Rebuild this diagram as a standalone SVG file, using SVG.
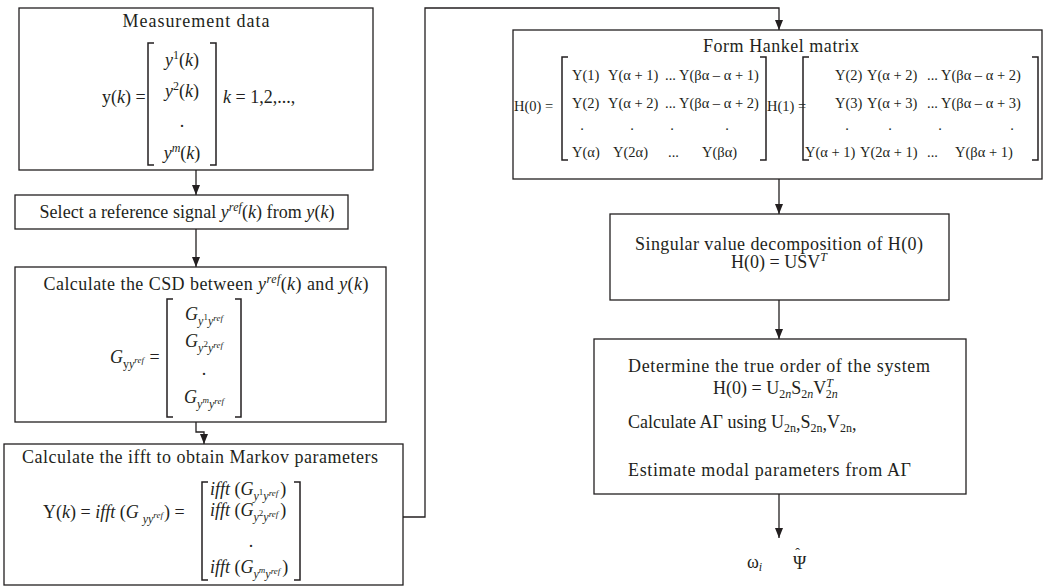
<svg xmlns="http://www.w3.org/2000/svg" width="1044" height="588" viewBox="0 0 1044 588">
<style>
.box{fill:#fff;stroke:#231f20;stroke-width:1.3}
.br{fill:none;stroke:#231f20;stroke-width:1.5}
.ln{fill:none;stroke:#231f20;stroke-width:1.3}
text{font-family:"Liberation Serif","Times New Roman",serif;font-size:18px;fill:#231f20}
.m{font-size:14.5px}
.i{font-style:italic}
</style>
<defs>
<marker id="ah" markerUnits="userSpaceOnUse" markerWidth="10" markerHeight="10" refX="10" refY="4" orient="auto">
<path d="M0,0 L10,4 L0,8 z" fill="#231f20"/>
</marker>
</defs>
<rect width="1044" height="588" fill="#fff"/>

<g id="connectors">
<path class="ln" d="M196,170 V195" marker-end="url(#ah)"/>
<path class="ln" d="M196,229 V267" marker-end="url(#ah)"/>
<path class="ln" d="M196,422 V432 H204 V444" marker-end="url(#ah)"/>
<path class="ln" d="M403,517 H425 V8 H779 V30" marker-end="url(#ah)"/>
<path class="ln" d="M779,179 V214" marker-end="url(#ah)"/>
<path class="ln" d="M779,300 V339" marker-end="url(#ah)"/>
<path class="ln" d="M779,494 V538" marker-end="url(#ah)"/>
</g>

<g id="measurement">
<rect class="box" x="19" y="8" width="354" height="162"/>
<text x="196" y="27" text-anchor="middle" textLength="147">Measurement data</text>
<text x="102" y="103">y(<tspan class="i">k</tspan>) =</text>
<path class="br" d="M154,43 H148 V165 H154 M210,43 H216 V165 H210"/>
<text x="182" y="66" text-anchor="middle"><tspan class="i">y</tspan><tspan font-size="12" dy="-7">1</tspan><tspan dy="7">(</tspan><tspan class="i">k</tspan>)</text>
<text x="182" y="97" text-anchor="middle"><tspan class="i">y</tspan><tspan font-size="12" dy="-7">2</tspan><tspan dy="7">(</tspan><tspan class="i">k</tspan>)</text>
<text x="182" y="127" text-anchor="middle">.</text>
<text x="182" y="159" text-anchor="middle"><tspan class="i">y</tspan><tspan class="i" font-size="12" dy="-7">m</tspan><tspan dy="7">(</tspan><tspan class="i">k</tspan>)</text>
<text x="223" y="103"><tspan class="i">k</tspan> = 1,2,...,</text>
</g>

<g id="select">
<rect class="box" x="15" y="195" width="333" height="34"/>
<text x="187" y="218" text-anchor="middle" textLength="295">Select a reference signal <tspan class="i">y</tspan><tspan class="i" font-size="12" dy="-7">ref</tspan><tspan dy="7">(</tspan><tspan class="i">k</tspan>) from <tspan class="i">y</tspan>(<tspan class="i">k</tspan>)</text>
</g>

<g id="csd">
<rect class="box" x="15" y="267" width="371" height="155"/>
<text x="206" y="290" text-anchor="middle" textLength="325">Calculate the CSD between <tspan class="i">y</tspan><tspan class="i" font-size="12" dy="-7">ref</tspan><tspan dy="7">(</tspan><tspan class="i">k</tspan>) and <tspan class="i">y</tspan>(<tspan class="i">k</tspan>)</text>
<text x="110" y="363"><tspan class="i">G</tspan><tspan font-size="12" dy="5">y</tspan><tspan class="i" font-size="12">y</tspan><tspan class="i" font-size="9" dy="-5">ref</tspan><tspan dx="1"> =</tspan></text>
<path class="br" d="M173,299 H167 V417 H173 M235,299 H241 V417 H235"/>
<text x="204" y="320" text-anchor="middle"><tspan class="i">G</tspan><tspan class="i" font-size="12" dy="5">y</tspan><tspan font-size="9" dy="-5">1</tspan><tspan class="i" font-size="12" dy="5">y</tspan><tspan class="i" font-size="9" dy="-4">ref</tspan></text>
<text x="204" y="347" text-anchor="middle"><tspan class="i">G</tspan><tspan class="i" font-size="12" dy="5">y</tspan><tspan font-size="9" dy="-5">2</tspan><tspan class="i" font-size="12" dy="5">y</tspan><tspan class="i" font-size="9" dy="-4">ref</tspan></text>
<text x="204" y="375" text-anchor="middle">.</text>
<text x="204" y="403" text-anchor="middle"><tspan class="i">G</tspan><tspan class="i" font-size="12" dy="5">y</tspan><tspan class="i" font-size="9" dy="-5">m</tspan><tspan class="i" font-size="12" dy="5">y</tspan><tspan class="i" font-size="9" dy="-4">ref</tspan></text>
</g>

<g id="ifft">
<rect class="box" x="4" y="444" width="399" height="141"/>
<text x="200" y="463" text-anchor="middle" textLength="356">Calculate the ifft to obtain Markov parameters</text>
<text x="43" y="518">Y(<tspan class="i">k</tspan>) = <tspan class="i">ifft</tspan> (<tspan class="i">G</tspan><tspan class="i" font-size="12" dx="4" dy="5">yy</tspan><tspan class="i" font-size="9" dy="-5">ref</tspan><tspan dx="1">) =</tspan></text>
<path class="br" d="M208,482 H202 V580 H208 M294,482 H300 V580 H294"/>
<text x="210" y="495"><tspan class="i">ifft</tspan> (<tspan class="i">G</tspan><tspan class="i" font-size="12" dy="5">y</tspan><tspan font-size="9" dy="-5">1</tspan><tspan class="i" font-size="12" dy="5">y</tspan><tspan class="i" font-size="9" dy="-4">ref</tspan><tspan dx="2" dy="-1">)</tspan></text>
<text x="210" y="516"><tspan class="i">ifft</tspan> (<tspan class="i">G</tspan><tspan class="i" font-size="12" dy="5">y</tspan><tspan font-size="9" dy="-5">2</tspan><tspan class="i" font-size="12" dy="5">y</tspan><tspan class="i" font-size="9" dy="-4">ref</tspan><tspan dx="2" dy="-1">)</tspan></text>
<text x="251" y="547" text-anchor="middle">.</text>
<text x="210" y="573"><tspan class="i">ifft</tspan> (<tspan class="i">G</tspan><tspan class="i" font-size="12" dy="5">y</tspan><tspan class="i" font-size="9" dy="-5">m</tspan><tspan class="i" font-size="12" dy="5">y</tspan><tspan class="i" font-size="9" dy="-4">ref</tspan><tspan dx="2" dy="-1">)</tspan></text>
</g>

<g id="hankel">
<rect class="box" x="513" y="30" width="529" height="149"/>
<text x="781" y="52" text-anchor="middle" textLength="156">Form Hankel matrix</text>
<text class="m" x="514" y="111">H(0) =</text>
<path class="br" d="M568,57 H562 V160 H568 M760,57 H766 V160 H760"/>
<text class="m" x="572" y="80">Y(1)</text>
<text class="m" x="608" y="80">Y(α + 1)</text>
<text class="m" x="665" y="80">... Y(βα – α + 1)</text>
<text class="m" x="572" y="108">Y(2)</text>
<text class="m" x="608" y="108">Y(α + 2)</text>
<text class="m" x="665" y="108">... Y(βα – α + 2)</text>
<text class="m" x="582" y="130" text-anchor="middle">.</text>
<text class="m" x="632" y="130" text-anchor="middle">.</text>
<text class="m" x="672" y="130" text-anchor="middle">.</text>
<text class="m" x="727" y="130" text-anchor="middle">.</text>
<text class="m" x="572" y="157">Y(α)</text>
<text class="m" x="613" y="157">Y(2α)</text>
<text class="m" x="668" y="157">...</text>
<text class="m" x="702" y="157">Y(βα)</text>
<text class="m" x="767" y="111">H(1) =</text>
<path class="br" d="M809,57 H803 V160 H809 M1032,57 H1038 V160 H1032"/>
<text class="m" x="835" y="80">Y(2)</text>
<text class="m" x="867" y="80">Y(α + 2)</text>
<text class="m" x="927" y="80">... Y(βα – α + 2)</text>
<text class="m" x="835" y="108">Y(3)</text>
<text class="m" x="867" y="108">Y(α + 3)</text>
<text class="m" x="927" y="108">... Y(βα – α + 3)</text>
<text class="m" x="847" y="130" text-anchor="middle">.</text>
<text class="m" x="890" y="130" text-anchor="middle">.</text>
<text class="m" x="940" y="130" text-anchor="middle">.</text>
<text class="m" x="1012" y="130" text-anchor="middle">.</text>
<text class="m" x="805" y="157">Y(α + 1)</text>
<text class="m" x="860" y="157">Y(2α + 1)</text>
<text class="m" x="927" y="157">...</text>
<text class="m" x="955" y="157">Y(βα + 1)</text>
</g>

<g id="svd">
<rect class="box" x="610" y="214" width="339" height="86"/>
<text x="779" y="250" text-anchor="middle" textLength="288">Singular value decomposition of H(0)</text>
<text x="779" y="268" text-anchor="middle">H(0) = USV<tspan class="i" font-size="12" dy="-7">T</tspan></text>
</g>

<g id="order">
<rect class="box" x="594" y="339" width="372" height="155"/>
<text x="628" y="372" textLength="302">Determine the true order of the system</text>
<text x="713" y="394">H(0) = U<tspan font-size="12" dy="4">2<tspan class="i">n</tspan></tspan><tspan dy="-4">S</tspan><tspan font-size="12" dy="4">2<tspan class="i">n</tspan></tspan><tspan dy="-4">V</tspan><tspan class="i" font-size="12" dy="-7">T</tspan><tspan font-size="12" dx="-7" dy="11">2<tspan class="i">n</tspan></tspan></text>
<text x="628" y="428">Calculate AΓ using U<tspan font-size="12" dy="4">2n</tspan><tspan dy="-2">,</tspan><tspan dy="-2">S</tspan><tspan font-size="12" dy="4">2n</tspan><tspan dy="-2">,</tspan><tspan dy="-2">V</tspan><tspan font-size="12" dy="4">2n</tspan><tspan dy="-2">,</tspan></text>
<text x="628" y="476" textLength="283">Estimate modal parameters from AΓ</text>
</g>

<g id="output">
<text x="747" y="568">ω<tspan class="i" font-size="12" dy="3">i</tspan></text>
<text x="793" y="569">Ψ<tspan font-size="14" dx="-11" dy="-11">ˆ</tspan></text>
</g>
</svg>
